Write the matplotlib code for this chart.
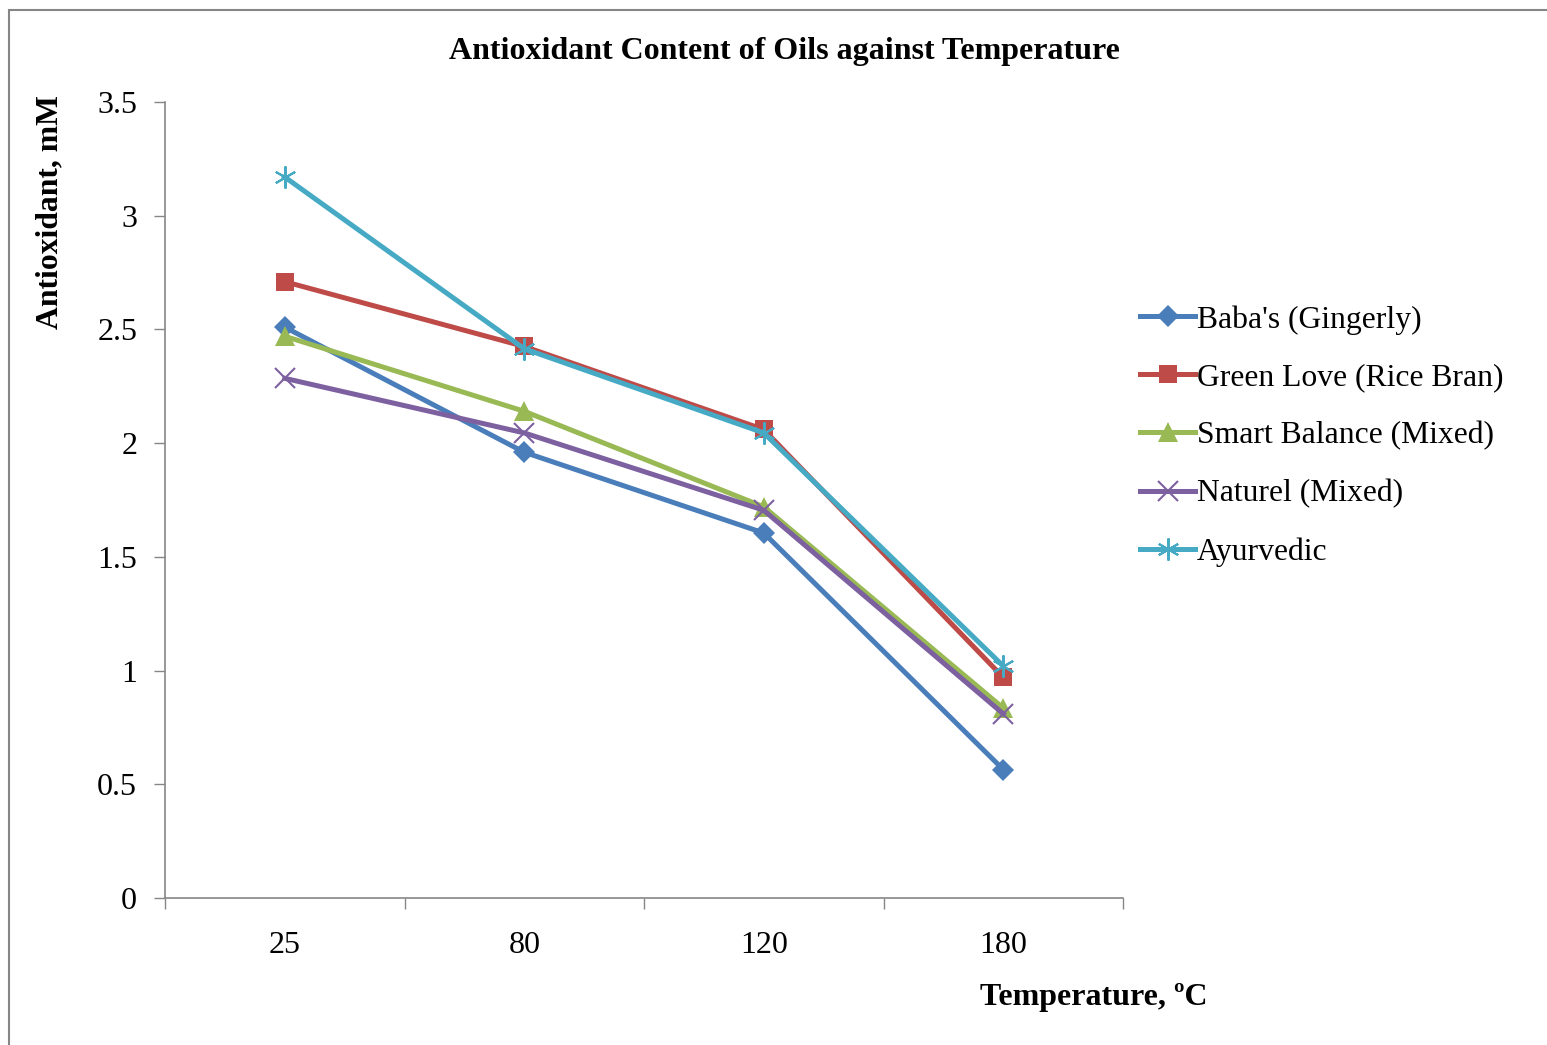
import matplotlib
matplotlib.use("Agg")
import matplotlib.pyplot as plt
from matplotlib.patches import Rectangle

plt.rcParams['font.family'] = ['Liberation Serif', 'DejaVu Serif']

temperatures = ["25", "80", "120", "180"]
babas = [2.51, 1.96, 1.605, 0.565]
green_love = [2.71, 2.425, 2.06, 0.97]
smart_balance = [2.47, 2.14, 1.72, 0.835]
naturel = [2.285, 2.045, 1.705, 0.81]
ayurvedic = [3.17, 2.415, 2.045, 1.02]

series = [
    ("Baba's (Gingerly)", babas, "#4A7EBB", "D", 11),
    ("Green Love (Rice Bran)", green_love, "#BE4B48", "s", 13),
    ("Smart Balance (Mixed)", smart_balance, "#98B954", "^", 14),
    ("Naturel (Mixed)", naturel, "#7D60A0", "x", 14),
    ("Ayurvedic", ayurvedic, "#46AAC5", (6, 2, 0), 16),
]

W, H = 1547, 1045
fig = plt.figure(figsize=(W / 100, H / 100), dpi=100)
fig.patches.append(Rectangle((9 / W, -0.2), 1.2, 1.2 - 10 / H, transform=fig.transFigure,
                             fill=False, edgecolor="#868686", linewidth=1.5))

ax = fig.add_axes([165 / W, (H - 898) / H, (1123 - 165) / W, (898 - 102) / H])
x = list(range(len(temperatures)))
for name, vals, col, mk, ms in series:
    mew = 1.5 if mk in ("x", (6, 2, 0)) else 0
    ax.plot(x, vals, color=col, linewidth=3.6, marker=mk, markersize=ms,
            markeredgewidth=mew, markeredgecolor=col, markerfacecolor=col, label=name)

ax.set_xlim(-0.5, 3.5)
ax.set_ylim(0, 3.5)
ax.set_yticks([0, 0.5, 1, 1.5, 2, 2.5, 3, 3.5])
ax.set_yticklabels(["0", "0.5", "1", "1.5", "2", "2.5", "3", "3.5"])
ax.set_xticks([-0.5, 0.5, 1.5, 2.5, 3.5])
ax.set_xticklabels([])
ax.set_xticks(x, minor=True)
ax.set_xticklabels(temperatures, minor=True)
ax.tick_params(axis="x", which="minor", length=0, pad=24, labelsize=23)
ax.tick_params(axis="x", which="major", length=8, width=1, color="#868686")
ax.tick_params(axis="y", length=8, width=1, color="#868686", labelsize=23, pad=12)
for s in ("top", "right"):
    ax.spines[s].set_visible(False)
for s in ("left", "bottom"):
    ax.spines[s].set_color("#868686")
    ax.spines[s].set_linewidth(1.2)

fig.text(784 / W, 1 - 52 / H, "Antioxidant Content of Oils against Temperature",
         ha="center", va="center", fontsize=23, fontweight="bold")
fig.text(50 / W, 1 - 212 / H, "Antioxidant, mM", rotation=90, ha="center", va="center",
         fontsize=22.8, fontweight="bold")
fig.text(1094 / W, 1 - 998 / H, "Temperature, ºC", ha="center", va="center",
         fontsize=23, fontweight="bold")

leg = ax.legend(loc="upper left", bbox_to_anchor=(1140 / W, 1 - 305 / H),
                bbox_transform=fig.transFigure, frameon=False, fontsize=22.8,
                handlelength=1.75, handletextpad=0.05, labelspacing=0.91, borderaxespad=0,
                borderpad=0)

fig.savefig("out.png", dpi=100)
